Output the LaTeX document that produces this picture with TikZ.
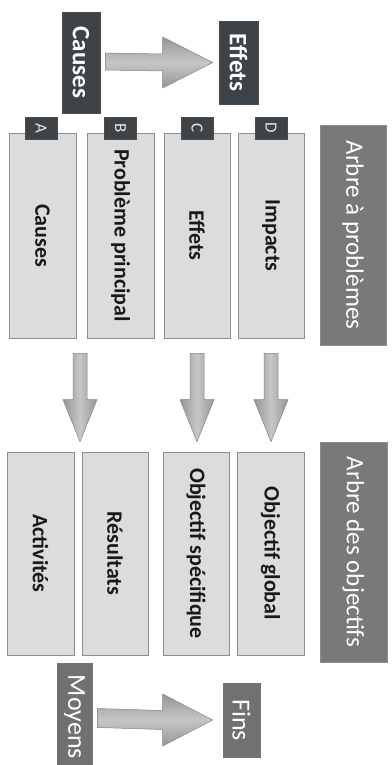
\documentclass[tikz,border=0pt]{standalone}
\usepackage{fontspec}
\setmainfont{Carlito}
\usetikzlibrary{arrows.meta,calc}
\definecolor{darkbox}{HTML}{3D4347}
\definecolor{midbox}{HTML}{77797B}
\definecolor{lightfill}{HTML}{DCDCDC}
\definecolor{boxline}{HTML}{8E8E8E}
\definecolor{arrowedge}{HTML}{858585}
\definecolor{arrowdark}{HTML}{969696}
\definecolor{arrowlight}{HTML}{C6C6C6}
\definecolor{moybox}{HTML}{6F7173}
\begin{document}
\begin{tikzpicture}[x=1pt,y=-1pt,
  lbox/.style={draw=boxline, line width=0.6pt, fill=lightfill, inner sep=0pt,
    text=black!90, font=\bfseries\fontsize{22}{26}\selectfont},
  dbox/.style={draw=black!70, line width=0.6pt, fill=darkbox, inner sep=0pt,
    text=white, font=\bfseries\fontsize{25}{30}\selectfont},
  mbox/.style={draw=black!45, line width=0.6pt, fill=midbox, inner sep=0pt,
    text=white, font=\fontsize{25}{29}\selectfont, minimum width=66pt, minimum height=220pt},
  gbox/.style={draw=black!55, line width=0.6pt, fill=moybox, inner sep=0pt,
    text=white, font=\fontsize{26}{30}\selectfont},
  tagbox/.style={draw=black!70, line width=0.5pt, fill=darkbox, inner sep=0pt,
    text=white!90!black, font=\fontsize{17}{19}\selectfont, minimum width=32pt, minimum height=22pt},
  harrow/.style={draw=arrowedge, line width=0.5pt, top color=arrowdark, bottom color=arrowdark, middle color=arrowlight},
  varrow/.style={draw=arrowedge, line width=0.5pt, left color=arrowdark, right color=arrowdark, middle color=arrowlight}
]
\useasboundingbox[fill=white] (0,0) rectangle (391,765);

% header: causes -> effets
\node[dbox, minimum width=38pt, minimum height=101pt] (causes) at (81,62.5) {\rotatebox{-90}{Causes}};
\node[dbox, minimum width=39pt, minimum height=83pt] (effets) at (238.5,62.5) {\rotatebox{-90}{Effets}};
\coordinate (h1s) at ($(causes.east)+(5,-1)$);
\coordinate (h1e) at ($(effets.west)+(-6,0)$);
\path[harrow] ($(h1s)+(0,-8.5)$) -- ($(h1e)+(-50,-8.5)$) -- ($(h1e)+(-50,-25.5)$) -- (h1e)
  -- ($(h1e)+(-50,25.5)$) -- ($(h1e)+(-50,8.5)$) -- ($(h1s)+(0,8.5)$) -- cycle;

% problem tree
\node[lbox, minimum width=67pt, minimum height=205pt] (A) at (42.5,235.5) {\rotatebox{-90}{Causes}};
\node[lbox, minimum width=67pt, minimum height=205pt] (B) at (120.5,235.5) {\rotatebox{-90}{Problème principal}};
\node[lbox, minimum width=66pt, minimum height=205pt] (C) at (197,235.5) {\rotatebox{-90}{Effets}};
\node[lbox, minimum width=66pt, minimum height=205pt] (D) at (271,235.5) {\rotatebox{-90}{Impacts}};
\node[tagbox] (tA) at (41,128) {\rotatebox{-90}{A}};
\node[tagbox] (tB) at (120.5,128) {\rotatebox{-90}{B}};
\node[tagbox] (tC) at (197,128) {\rotatebox{-90}{C}};
\node[tagbox] (tD) at (271,128) {\rotatebox{-90}{D}};
\node[mbox] (ap) at (353,235) {\rotatebox{-90}{Arbre à problèmes}};

% objective tree
\node[lbox, minimum width=67pt, minimum height=203pt] (act) at (40.5,553.5) {\rotatebox{-90}{Activités}};
\node[lbox, minimum width=66pt, minimum height=203pt] (res) at (115,553.5) {\rotatebox{-90}{Résultats}};
\node[lbox, minimum width=66pt, minimum height=203pt] (os) at (196,553.5) {\rotatebox{-90}{Objectif spécifique}};
\node[lbox, minimum width=67pt, minimum height=203pt] (og) at (270.5,553.5) {\rotatebox{-90}{Objectif global}};
\node[mbox, minimum width=67pt] (ao) at (353.5,552) {\rotatebox{-90}{Arbre des objectifs}};

% down arrows
\coordinate (d1s) at ($(A.south)!0.5!(B.south)+(-1.5,15)$);
\coordinate (d2s) at ($(C.south)+(0,15)$);
\coordinate (d3s) at ($(D.south)+(0,15)$);
\coordinate (d1e) at ($(d1s |- act.north)+(0,-10)$);
\coordinate (d2e) at ($(d2s |- os.north)+(0,-10)$);
\coordinate (d3e) at ($(d3s |- og.north)+(0,-10)$);
\foreach \s/\e in {d1s/d1e, d2s/d2e, d3s/d3e}{
  \path[varrow] ($(\s)+(-7,0)$) -- ($(\e)+(-7,-42)$) -- ($(\e)+(-17,-42)$) -- (\e)
    -- ($(\e)+(17,-42)$) -- ($(\e)+(7,-42)$) -- ($(\s)+(7,0)$) -- cycle;
}

% footer: moyens -> fins
\node[gbox, minimum width=35pt, minimum height=108pt] (moy) at (74.5,717) {\rotatebox{-90}{Moyens}};
\node[gbox, minimum width=37pt, minimum height=74pt] (fins) at (241.5,720) {\rotatebox{-90}{Fins}};
\coordinate (h2s) at ($(moy.east)+(5,1)$);
\coordinate (h2e) at ($(moy.east -| fins.west)+(-10,3)$);
\path[harrow] ($(h2s)+(0,-9.5)$) -- ($(h2e)+(-50,-9.5)$) -- ($(h2e)+(-50,-26)$) -- (h2e)
  -- ($(h2e)+(-50,26)$) -- ($(h2e)+(-50,9.5)$) -- ($(h2s)+(0,9.5)$) -- cycle;
\end{tikzpicture}
\end{document}
